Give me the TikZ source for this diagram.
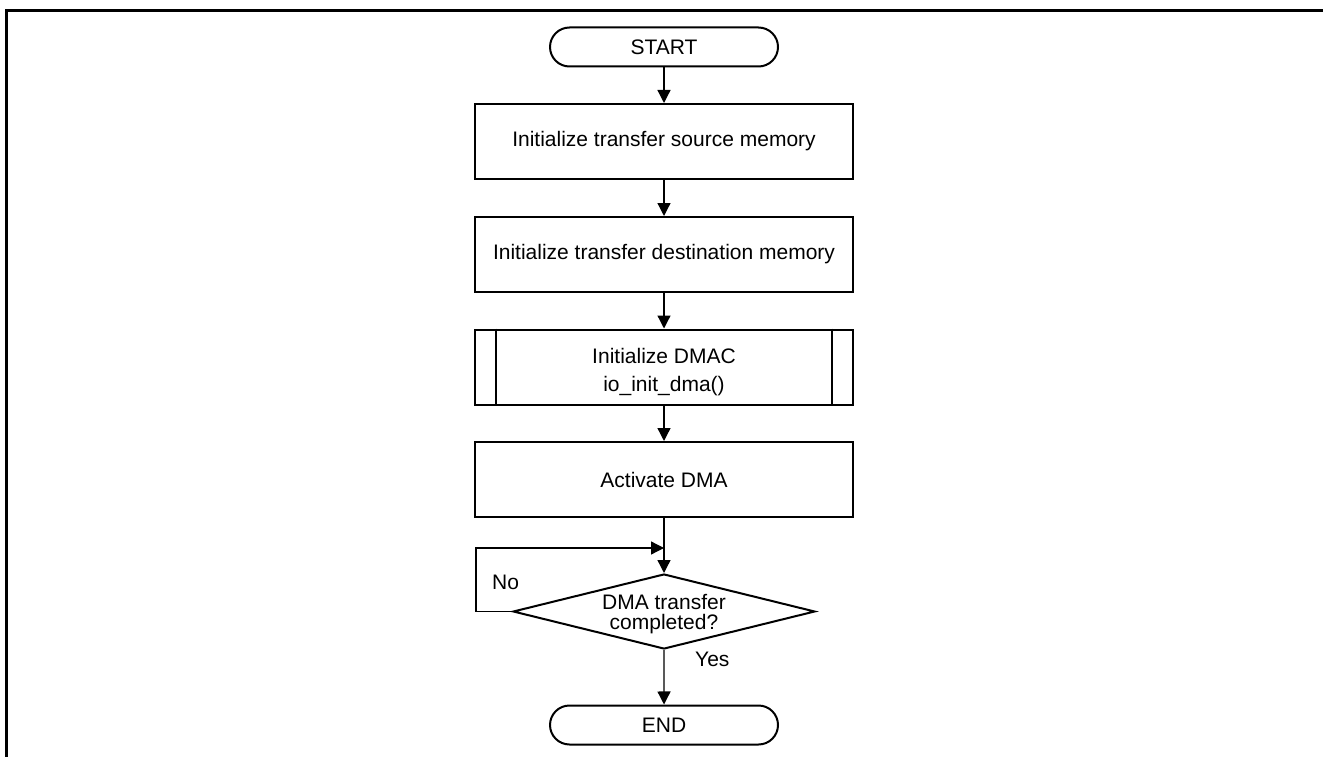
\documentclass[tikz,border=0pt]{standalone}
\usepackage{fontspec}
\setmainfont{Liberation Sans}
\usetikzlibrary{shapes.misc,shapes.geometric,arrows.meta}
\begin{document}
\begin{tikzpicture}[x=1pt,y=-1pt,
  every node/.style={font=\fontsize{21}{24}\selectfont},
  term/.style={rounded rectangle, draw, line width=2pt, minimum width=228pt, minimum height=39pt, inner sep=0pt},
  proc/.style={rectangle, draw, line width=2pt, minimum width=378pt, minimum height=75pt, inner sep=0pt, align=center},
  dec/.style={diamond, draw, line width=2pt, minimum width=302pt, minimum height=75pt, inner sep=0pt, aspect=4},
  arr/.style={line width=1.3pt, -{Triangle[width=13pt,length=13pt]}},
  lbl/.style={anchor=base west, inner sep=0pt}]
\useasboundingbox (0,0) rectangle (1323,757);
\draw[line width=3pt] (6,757) -- (6,11) -- (1323,11);
\node[term] (start) at (664,47) {START};
\node[proc] (b1) at (664,141.5) {Initialize transfer source memory};
\node[proc] (b2) at (664,254.5) {Initialize transfer destination memory};
\node[proc] (b3) at (664,367) {};
\node[align=center, font=\fontsize{21}{28}\selectfont, inner sep=0pt] (b3t) at (664,372) {Initialize DMAC\\io\_init\_dma()};
\draw[line width=2pt] ([xshift=22pt]b3.north west) -- ([xshift=22pt]b3.south west);
\draw[line width=2pt] ([xshift=-22pt]b3.north east) -- ([xshift=-22pt]b3.south east);
\node[proc] (b4) at (664,479.5) {Activate DMA};
\node[dec] (d) at (664,611.5) {};
\node[align=center, font=\fontsize{21}{20}\selectfont, inner sep=0pt] (dt) at (664,614) {DMA transfer\\completed?};
\node[term] (end) at (664,725) {END};
\coordinate (m) at (664,548);
\draw[arr] (start) -- (b1);
\draw[arr] (b1) -- (b2);
\draw[arr] (b2) -- (b3);
\draw[arr] (b3) -- (b4);
\draw[arr] (b4) -- (d);
\draw[arr] (d) -- (end);
\draw[arr] (d.west) -- ++(-36,0) |- (m);
\node[lbl] (no) at (492,589) {No};
\node[lbl] (yes) at (695,666) {Yes};
\end{tikzpicture}
\end{document}
